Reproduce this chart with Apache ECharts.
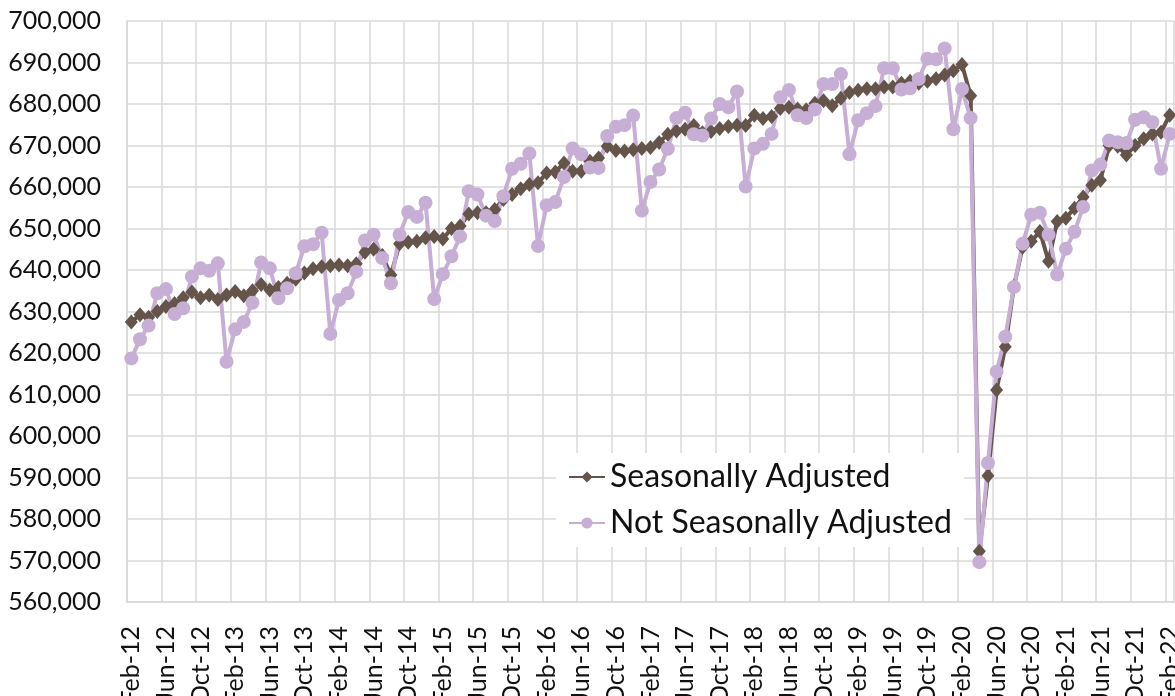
<!DOCTYPE html>
<html>
<head>
<meta charset="utf-8">
<script src="https://cdn.jsdelivr.net/npm/echarts@6/dist/echarts.min.js"></script>
<style>
  html, body { margin: 0; padding: 0; background: #fff; }
  #chart { width: 1175px; height: 696px; }
</style>
</head>
<body>
<div id="chart"></div>
<script>
// months Feb-12 .. Feb-22
var monthNames = ['Jan', 'Feb', 'Mar', 'Apr', 'May', 'Jun', 'Jul', 'Aug', 'Sep', 'Oct', 'Nov', 'Dec'];
var categories = [];
for (var k = 1; k <= 121; k++) {
  var m = k % 12;
  var y = 12 + Math.floor(k / 12);
  categories.push(monthNames[m] + '-' + y);
}

var seasonallyAdjusted = [
  627500, 629200, 628600, 630000, 631200, 631900, 633300, 634700, 633300, 633900, 632900, 634000,
  634800, 633800, 635000, 636500, 635200, 635800, 636800, 637800, 639300, 640300, 640800, 641000,
  641200, 641000, 641500, 644300, 645000, 643500, 638800, 646300, 646700, 646900, 647800, 648100,
  647500, 650000, 650600, 653500, 653800, 653800, 654600, 657000, 658200, 659600, 660600, 661000,
  663400, 663600, 665800, 663800, 663800, 666200, 667000, 669800, 668800, 668700, 669000, 669300,
  669500, 670700, 672700, 673500, 673900, 674800, 673100, 673400, 674100, 674600, 674900, 674800,
  677300, 676500, 677000, 678900, 679200, 678800, 678600, 680200, 680800, 679600, 681400, 682800,
  683300, 683700, 683700, 684100, 684100, 685000, 685500, 685000, 685500, 686100, 687000, 688000,
  689500, 682000, 572200, 590400, 611100, 621500, 636000, 645500, 646900, 649300, 642100, 651700,
  652500, 654900, 657600, 660400, 661600, 670000, 669800, 667700, 670000, 671600, 672800, 673200,
  677300
];

var notSeasonallyAdjusted = [
  618700, 623300, 626600, 634400, 635400, 629400, 630800, 638400, 640400, 639800, 641600, 617900,
  625700, 627500, 632100, 641800, 640400, 633200, 635600, 639200, 645700, 646200, 649000, 624600,
  632800, 634400, 639600, 647100, 648500, 642900, 636800, 648500, 654000, 652800, 656200, 633000,
  639000, 643300, 648100, 659000, 658200, 653100, 651800, 657800, 664400, 665600, 668100, 645800,
  655600, 656400, 662400, 669300, 667900, 664700, 664600, 672300, 674500, 674900, 677200, 654300,
  661200, 664200, 669200, 676600, 677900, 672700, 672400, 676500, 680000, 679200, 683000, 660100,
  669300, 670400, 672800, 681600, 683400, 677300, 676600, 678700, 684800, 684800, 687200, 667900,
  676100, 677800, 679500, 688600, 688600, 683500, 683800, 686000, 690900, 690800, 693400, 673900,
  683600, 676600, 569600, 593500, 615500, 623900, 635900, 646300, 653300, 653800, 648500, 638900,
  645100, 649200, 655200, 664000, 665400, 671200, 670800, 670600, 676200, 676800, 675600, 664400,
  672800
];

var yMin = 560000, yMax = 700000, yStep = 10000;

var myChart = echarts.init(document.getElementById('chart'));
var option = {
  animation: false,
  backgroundColor: '#fff',
  textStyle: { fontFamily: 'Lato' },
  grid: { left: 127, right: 1, top: 21, bottom: 94, containLabel: false, outerBoundsMode: 'none' },
  legend: {
    orient: 'vertical',
    left: 556,
    top: 453,
    backgroundColor: '#fff',
    padding: [8, 12, 8, 12],
    itemWidth: 36,
    itemHeight: 14,
    itemGap: 14,
    textStyle: { fontSize: 32, color: '#111', fontFamily: 'Lato' },
    data: ['Seasonally Adjusted', 'Not Seasonally Adjusted']
  },
  xAxis: {
    type: 'category',
    data: categories,
    boundaryGap: true,
    axisLine: { lineStyle: { color: '#d9d9d9', width: 1.5 } },
    axisTick: { show: false },
    axisLabel: {
      interval: 3,
      rotate: 90,
      margin: 24,
      fontSize: 25,
      color: '#111',
      fontFamily: 'Lato'
    },
    splitLine: { show: true, interval: 3, lineStyle: { color: '#d9d9d9', width: 1.5 } }
  },
  yAxis: {
    type: 'value',
    min: yMin,
    max: yMax,
    interval: yStep,
    axisLine: { show: true, lineStyle: { color: '#d9d9d9', width: 1.5 } },
    axisTick: { show: false },
    axisLabel: {
      margin: 26,
      fontSize: 25,
      color: '#111',
      fontFamily: 'Lato',
      formatter: function (v) { return v.toLocaleString('en-US'); }
    },
    splitLine: { lineStyle: { color: '#d9d9d9', width: 1.5 } }
  },
  series: [
    {
      name: 'Seasonally Adjusted',
      type: 'line',
      data: seasonallyAdjusted,
      symbol: 'diamond',
      symbolSize: [13, 15],
      showAllSymbol: true,
      lineStyle: { color: '#64544A', width: 4 },
      itemStyle: { color: '#64544A' }
    },
    {
      name: 'Not Seasonally Adjusted',
      type: 'line',
      data: notSeasonallyAdjusted,
      symbol: 'circle',
      symbolSize: 14,
      showAllSymbol: true,
      lineStyle: { color: '#C6AED4', width: 4 },
      itemStyle: { color: '#C6AED4' }
    }
  ]
};
myChart.setOption(option);
</script>
</body>
</html>
